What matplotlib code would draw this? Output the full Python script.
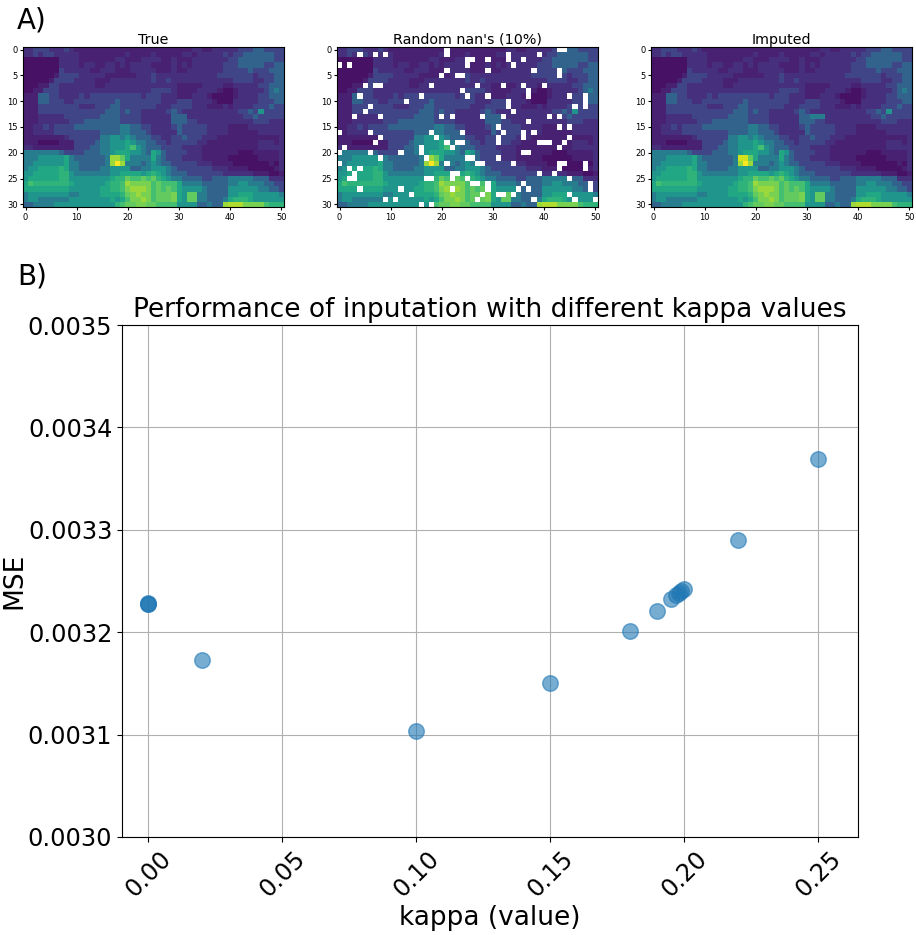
import numpy as np
import matplotlib
matplotlib.use("Agg")
import matplotlib.pyplot as plt

# heatmap, one hex digit per cell (0 = darkest, f = brightest)
true_rows = [
    "2233322232" "1111111111" "1111111111" "1112211222" "22333443333",
    "2232332222" "2111111111" "2111121111" "1221222223" "23344444433",
    "0000000222" "2111111122" "1112222112" "1112222222" "33444444433",
    "0000000222" "2122112212" "1222211112" "1212222223" "33444443344",
    "0000000322" "2221122211" "1222221112" "1122222223" "33334333444",
    "0000001333" "3222221111" "1122232222" "2222222233" "33333233344",
    "0000013333" "2222111222" "2222232232" "2222222222" "23333223344",
    "0001133222" "2222112222" "2222222222" "1111122221" "12222233444",
    "0011333222" "2222222222" "2222233332" "1111222210" "01222223454",
    "1114433222" "2323333333" "3332333222" "1112221000" "01222233444",
    "1114433322" "3333333343" "3333333222" "3332222100" "02222233344",
    "1113333333" "3222333443" "3333332223" "3332221112" "12222333433",
    "1113333333" "3333334443" "4332222234" "3222222222" "22334363333",
    "1112222233" "3333344443" "3332222224" "4422222222" "22233433333",
    "1112222223" "3344444443" "3332222224" "4433222222" "22222333222",
    "1122323333" "4444444445" "5443322223" "4333332222" "11112222222",
    "1122223333" "3333344445" "5444322222" "4333332222" "11111122222",
    "1111111123" "3333355665" "6544433223" "3433322211" "11111111112",
    "1110000111" "3333455666" "7655443323" "3333221111" "11111122212",
    "2211111111" "3334455666" "7965444333" "3222211111" "11111122222",
    "5555555433" "3344455677" "7665476433" "3322211111" "11000111112",
    "5556666675" "4444445cca" "7555575433" "3222211111" "00000011112",
    "5566666675" "5444445cfc" "5554565443" "3333222111" "10000000102",
    "5667777875" "5444455666" "6445566654" "3333333222" "11110000012",
    "6677777886" "5555555667" "7776787654" "4433333332" "22222111001",
    "6777777886" "6666666788" "a99a9a8765" "5444433444" "55555444222",
    "7988888887" "6666667889" "cbbbb9a999" "7555544444" "55665554433",
    "7777777776" "6666677889" "bcccb9a9a9" "7666654444" "66666655443",
    "5666666665" "5666677778" "abcbb9aaab" "76aa554444" "66777666665",
    "5665555556" "6666666767" "9bbcb9aaab" "76aa554445" "78887666666",
    "4455556666" "6666666689" "aabbaa9999" "666644544c" "dddbbbb9888",
]

# what each digit stands for on the 0-1 colour scale
levels = [0.05, 0.09, 0.14, 0.21, 0.32, 0.42, 0.52, 0.60, 0.65, 0.70, 0.76, 0.80, 0.85, 0.88, 0.93, 1.0]

# cells blanked out in the middle panel, row -> columns
nan_cells = {
    0: [21, 43, 44], 1: [4, 7, 9, 21, 33, 39], 2: [25, 26, 29, 33, 36],
    3: [0, 2, 25, 34], 4: [21, 29, 38, 43], 5: [20, 23, 24, 43],
    7: [5, 7, 8, 18, 27, 32, 36, 40], 8: [24, 37], 9: [4, 16, 25, 29, 37, 45, 48],
    10: [13, 33, 48], 11: [6, 33, 46, 48], 12: [5, 34],
    13: [3, 8, 20, 22, 28, 32, 41, 43], 14: [37], 15: [31, 43, 45],
    16: [0, 6, 18, 24, 32, 36, 38], 17: [8, 19, 31, 36, 45],
    18: [7, 21, 23, 24, 31, 39, 40, 41, 44], 19: [1, 16, 22, 43],
    20: [0, 6, 12, 16, 36, 37], 21: [8, 17, 25, 26, 31],
    22: [0, 21, 27, 28, 34, 43, 44, 48], 23: [2, 4, 43, 48],
    24: [3, 22, 23, 39, 42], 25: [2, 3, 17, 18, 22, 25, 45],
    26: [26, 27, 29, 36, 49], 27: [4, 12, 22, 29, 35, 37, 49],
    28: [14, 28, 31, 32, 34, 45], 29: [9, 11, 27, 38, 46, 50], 30: [16, 18],
}

# cells where the imputed panel visibly differs from the true one
imputed_changes = {(13, 31): 5, (13, 32): 5, (13, 33): 5, (21, 17): 14, (21, 18): 14}

kappa = [0.0, 0.0, 0.0, 0.02, 0.10, 0.15, 0.18, 0.19, 0.195, 0.197, 0.198, 0.199, 0.20, 0.22, 0.25]
mse = [0.003228, 0.003229, 0.003228, 0.003173, 0.003104, 0.00315, 0.003201, 0.003221,
       0.003232, 0.003236, 0.003238, 0.00324, 0.003242, 0.00329, 0.003369]

W, H = 916, 935


def box(x0, y0, x1, y1):
    return [x0 / W, 1 - y1 / H, (x1 - x0) / W, (y1 - y0) / H]


true_img = np.array([[levels[int(c, 16)] for c in row] for row in true_rows])
nan_img = true_img.copy()
for r, cols in nan_cells.items():
    nan_img[r, cols] = np.nan
imputed_img = true_img.copy()
for (r, c), lev in imputed_changes.items():
    imputed_img[r, c] = levels[lev]

fig = plt.figure(figsize=(W / 100, H / 100), dpi=100)

panels = [("True", true_img, 23), ("Random nan's (10%)", nan_img, 337), ("Imputed", imputed_img, 651)]
for title, img, x0 in panels:
    ax = fig.add_axes(box(x0, 47, x0 + 261, 207))
    ax.imshow(img, cmap="viridis", vmin=0, vmax=1, aspect="auto", interpolation="nearest")
    ax.set_xticks(range(0, 51, 10))
    ax.set_yticks(range(0, 31, 5))
    ax.tick_params(labelsize=6, length=2, pad=2)
    ax.set_title(title, fontsize=10.3, pad=2.5)

ax = fig.add_axes(box(122, 325, 858, 837))
ax.scatter(kappa, mse, s=125, alpha=0.6, zorder=3)
ax.set_xlim(-0.0097, 0.2649)
ax.set_ylim(0.0030, 0.0035)
ax.set_xticks(np.arange(0, 0.26, 0.05))
ax.set_yticks(np.arange(0.0030, 0.00351, 0.0001))
ax.ticklabel_format(useOffset=False, style="plain", axis="y")
ax.tick_params(labelsize=17.3)
ax.tick_params(axis="x", labelrotation=45)
ax.grid(True)
ax.set_axisbelow(True)
ax.set_xlabel("kappa (value)", fontsize=19, labelpad=2)
ax.set_ylabel("MSE", fontsize=19, labelpad=0.5)
ax.set_title("Performance of inputation with different kappa values", fontsize=19, pad=5.5)

fig.text(17 / W, 1 - 21 / H, "A)", fontsize=20, va="center")
fig.text(17 / W, 1 - 277 / H, "B)", fontsize=20, va="center")

fig.savefig("out.png", dpi=100)
